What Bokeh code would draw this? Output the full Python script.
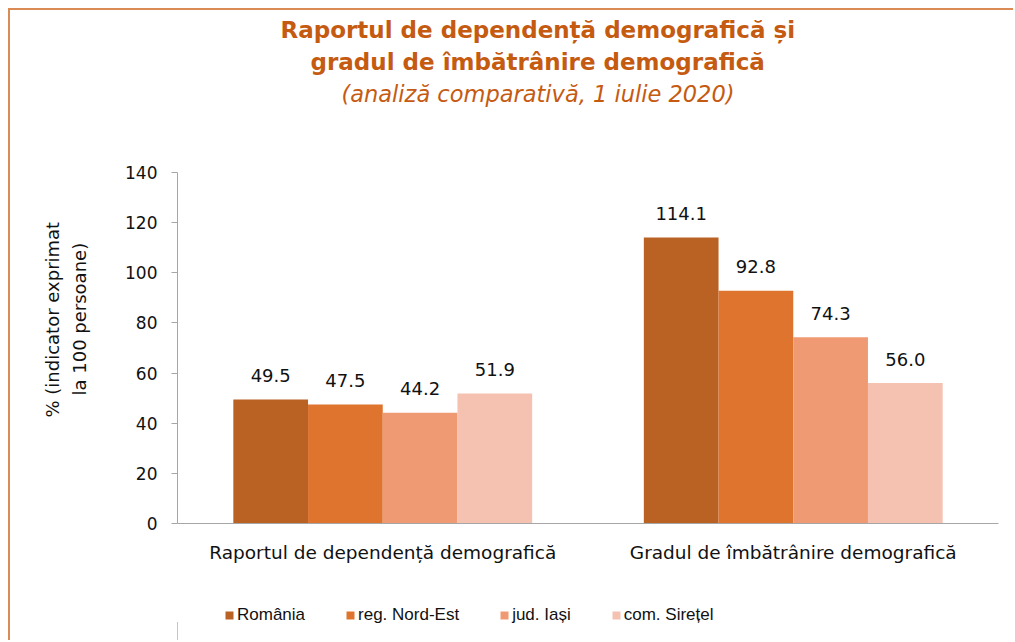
from bokeh.plotting import figure
from bokeh.layouts import column
from bokeh.models import (Range1d, LabelSet, ColumnDataSource, FixedTicker,
                          Legend, LegendItem, Title)
from bokeh.core.properties import value
from bokeh.transform import dodge
from bokeh.embed import file_html
from bokeh.resources import INLINE

categories = ["Raportul de dependență demografică", "Gradul de îmbătrânire demografică"]
series_names = ["România", "reg. Nord-Est", "jud. Iași", "com. Sirețel"]
romania = [49.5, 114.1]
nord_est = [47.5, 92.8]
iasi = [44.2, 74.3]
siretel = [51.9, 56.0]
y_ticks = [0, 20, 40, 60, 80, 100, 120, 140]

colors = ["#BA6124", "#DE742E", "#F09A73", "#F5C2B2"]
series = [romania, nord_est, iasi, siretel]
FONT = "DejaVu Sans"
ORANGE = "#C55A11"
BORDER = "#D98A55"

cat_x = [i + 0.5 for i in range(len(categories))]

p = figure(width=1005, height=595, x_range=Range1d(0, len(categories)),
           y_range=Range1d(0, 140), output_backend="svg", toolbar_location=None,
           min_border_left=167, min_border_right=17, min_border_top=162, min_border_bottom=82)
p.margin = (8, 0, 0, 8)
p.styles = {"border-left": "2px solid " + BORDER, "border-top": "2px solid " + BORDER}
p.outline_line_color = None
p.xgrid.grid_line_color = None
p.ygrid.grid_line_color = None

bar_w = 0.182
offsets = [-0.273, -0.091, 0.091, 0.273]
for name, vals, col, off in zip(series_names, series, colors, offsets):
    src = ColumnDataSource(dict(x=cat_x, val=vals, lab=["%.1f" % v for v in vals]))
    p.vbar(x=dodge("x", off), top="val", width=bar_w, source=src,
           fill_color=col, line_color=None)
    p.add_layout(LabelSet(x=dodge("x", off), y="val", text="lab", source=src,
                          text_align="center", text_baseline="middle", y_offset=24,
                          text_font=value(FONT), text_font_size="18px", text_color="#111111"))

# axes
p.yaxis.ticker = y_ticks
p.yaxis.axis_line_color = "#A6A6A6"
p.yaxis.major_tick_line_color = "#A6A6A6"
p.yaxis.major_tick_out = 6
p.yaxis.major_tick_in = 0
p.yaxis.minor_tick_line_color = None
p.yaxis.major_label_standoff = 14
p.yaxis.major_label_text_font = FONT
p.yaxis.major_label_text_font_size = "17px"
p.yaxis.major_label_text_color = "#111111"

p.xaxis.ticker = FixedTicker(ticks=cat_x)
p.xaxis.major_label_overrides = {x: c for x, c in zip(cat_x, categories)}
p.xaxis.axis_line_color = "#A6A6A6"
p.xaxis.major_tick_line_color = None
p.xaxis.minor_tick_line_color = None
p.xaxis.major_tick_out = 0
p.xaxis.major_label_standoff = 18
p.xaxis.major_label_text_font = FONT
p.xaxis.major_label_text_font_size = "18.5px"
p.xaxis.major_label_text_color = "#111111"

# titles (added from the frame outward)
p.add_layout(Title(text=" ", text_font_size="1px", standoff=61), "above")
p.add_layout(Title(text="(analiză comparativă, 1 iulie 2020)", align="left", offset=164,
                   text_font=FONT, text_font_size="22.5px", text_font_style="italic",
                   text_color=ORANGE, standoff=4), "above")
p.add_layout(Title(text="gradul de îmbătrânire demografică", align="left", offset=133,
                   text_font=FONT, text_font_size="23px", text_font_style="bold",
                   text_color=ORANGE, standoff=4), "above")
p.add_layout(Title(text="Raportul de dependență demografică și", align="left", offset=103,
                   text_font=FONT, text_font_size="23px", text_font_style="bold",
                   text_color=ORANGE, standoff=4), "above")

p.add_layout(Title(text=" ", text_font_size="1px", standoff=28), "left")
p.add_layout(Title(text="la 100 persoane)", align="left", offset=128,
                   text_font=FONT, text_font_size="18px", text_font_style="normal",
                   text_color="#111111", standoff=4), "left")
p.add_layout(Title(text="% (indicator exprimat", align="left", offset=106,
                   text_font=FONT, text_font_size="18px", text_font_style="normal",
                   text_color="#111111", standoff=4), "left")

# legend strip below the chart (its frame is aligned with the chart's frame)
leg = figure(width=1005, height=37, x_range=Range1d(0, 1), y_range=Range1d(0, 1),
             output_backend="svg", toolbar_location=None, min_border=0,
             x_axis_location=None, y_axis_location=None)
leg.margin = (0, 0, 0, 8)
leg.styles = {"border-left": "2px solid " + BORDER}
leg.outline_line_color = None
leg.xgrid.grid_line_color = None
leg.ygrid.grid_line_color = None
items = []
for name, col in zip(series_names, colors):
    # legend swatch source: one point kept outside the visible range
    r = leg.vbar(x=[-5], top=[0.5], width=0.1, fill_color=col, line_color=None)
    items.append(LegendItem(label=name, renderers=[r]))
legend = Legend(items=items, orientation="horizontal", location=(47, 15),
                glyph_width=10, glyph_height=10, label_standoff=3, spacing=40,
                padding=0, margin=0, border_line_color=None, background_fill_alpha=0,
                label_text_font="Liberation Sans", label_text_font_size="17px",
                label_text_color="#111111")
leg.add_layout(legend)

layout = column(p, leg, spacing=0)
open("out.html", "w").write(file_html(layout, INLINE))
